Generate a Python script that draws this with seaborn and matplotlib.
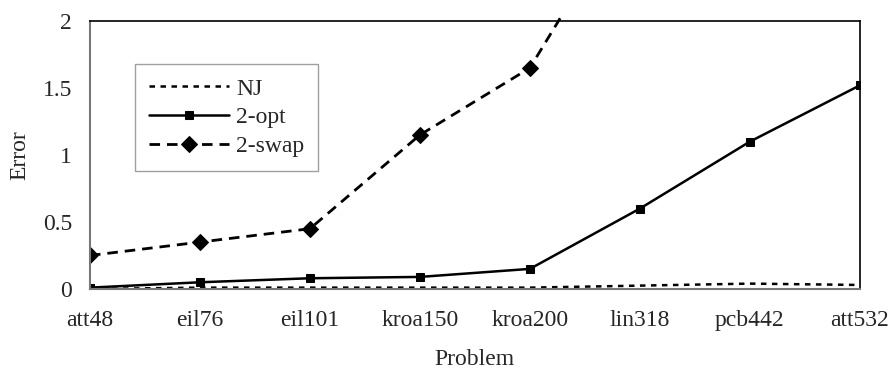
import seaborn as sns
import matplotlib.pyplot as plt
import pandas as pd
from matplotlib.transforms import Bbox, TransformedBbox

# Data
problems = ['att48', 'eil76', 'eil101', 'kroa150', 'kroa200', 'lin318', 'pcb442', 'att532']
nj = [0.0, 0.01, 0.01, 0.01, 0.01, 0.025, 0.04, 0.03]
two_opt = [0.01, 0.05, 0.08, 0.09, 0.15, 0.60, 1.10, 1.52]
two_swap = [0.25, 0.35, 0.45, 1.15, 1.65, 3.0, 3.6, 4.2]

sns.set_style('white')
plt.rcParams['font.family'] = ['Liberation Serif', 'DejaVu Serif']
fs = 17

fig = plt.figure(figsize=(8.91, 3.70), dpi=100)
ax = fig.add_axes([0.101, 0.219, 0.864, 0.724])

df = pd.DataFrame({'Problem': problems, 'NJ': nj, '2-opt': two_opt, '2-swap': two_swap})

sns.lineplot(data=df, x='Problem', y='NJ', ax=ax, color='black', lw=1.8,
             linestyle=(0, (2.2, 2.2)), label='NJ', sort=False)
sns.lineplot(data=df, x='Problem', y='2-opt', ax=ax, color='black', lw=1.8,
             marker='s', markersize=6, markeredgecolor='black', label='2-opt', sort=False)
sns.lineplot(data=df, x='Problem', y='2-swap', ax=ax, color='black', lw=2.0,
             linestyle=(0, (3.8, 2.5)), marker='D', markersize=8.5,
             markeredgecolor='black', label='2-swap', sort=False)

# the 2-swap line pokes a little above the frame, as in the original
swap_line = ax.get_lines()[-1]
swap_line.set_clip_path(None)
swap_line.set_clip_box(TransformedBbox(Bbox([[0, -0.02], [1, 1.022]]), ax.transAxes))

ax.set_xlim(0, len(problems) - 1)
ax.set_ylim(0, 2)
ax.set_yticks([0, 0.5, 1, 1.5, 2])
ax.set_yticklabels(['0', '0.5', '1', '1.5', '2'])
ax.set_xlabel('Problem', fontsize=fs)
ax.xaxis.set_label_coords(0.5, -0.285)
ax.xaxis.label.set_verticalalignment('baseline')
ax.set_ylabel('Error', fontsize=fs, labelpad=9)
ax.tick_params(axis='x', length=0, pad=15, labelsize=fs)
ax.tick_params(axis='y', length=0, pad=13, labelsize=fs)

for side in ['top', 'right']:
    ax.spines[side].set_color('black')
    ax.spines[side].set_linewidth(1.2)
for side in ['left', 'bottom']:
    ax.spines[side].set_color('#777777')
    ax.spines[side].set_linewidth(1.5)

leg = ax.legend(loc='upper left', bbox_to_anchor=(0.058, 0.84), borderaxespad=0,
                frameon=True, fancybox=False, edgecolor='#888888', borderpad=0.6,
                fontsize=fs, handlelength=3.4, handletextpad=0.3, labelspacing=0.3)
leg.get_frame().set_linewidth(1.0)

plt.savefig('out.png', dpi=100)
plt.close()
